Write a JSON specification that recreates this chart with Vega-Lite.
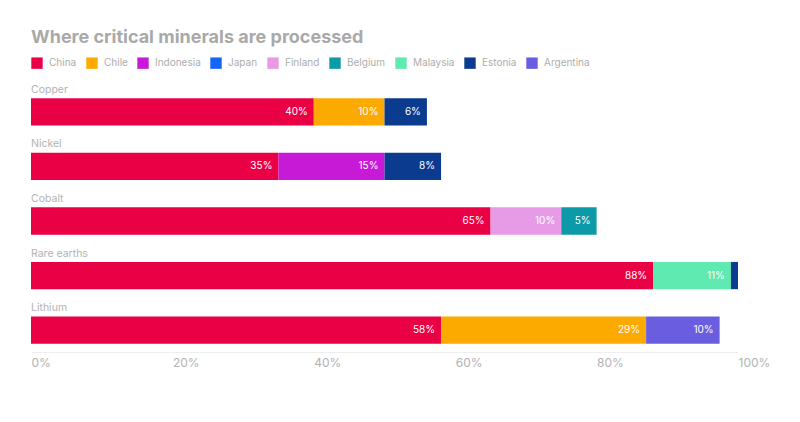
{
  "$schema": "https://vega.github.io/schema/vega-lite/v6.json",
  "autosize": {"type": "none"},
  "padding": {"left": 31, "top": 90, "right": 62, "bottom": 70},
  "width": 707,
  "height": 262,
  "background": "white",
  "title": {
    "text": "Where critical minerals are processed",
    "anchor": "start",
    "frame": "group",
    "font": "Inter",
    "fontSize": 18,
    "fontWeight": "bold",
    "color": "#a9a9a9",
    "offset": 10
  },
  "config": {
    "view": {"stroke": null},
    "font": "Inter"
  },
  "data": {
    "values": [
      {"mineral": "Copper", "country": "China", "value": 0.40},
      {"mineral": "Copper", "country": "Chile", "value": 0.10},
      {"mineral": "Copper", "country": "Estonia", "value": 0.06},
      {"mineral": "Nickel", "country": "China", "value": 0.35},
      {"mineral": "Nickel", "country": "Indonesia", "value": 0.15},
      {"mineral": "Nickel", "country": "Estonia", "value": 0.08},
      {"mineral": "Cobalt", "country": "China", "value": 0.65},
      {"mineral": "Cobalt", "country": "Finland", "value": 0.10},
      {"mineral": "Cobalt", "country": "Belgium", "value": 0.05},
      {"mineral": "Rare earths", "country": "China", "value": 0.88},
      {"mineral": "Rare earths", "country": "Malaysia", "value": 0.11},
      {"mineral": "Rare earths", "country": "Estonia", "value": 0.01},
      {"mineral": "Lithium", "country": "China", "value": 0.58},
      {"mineral": "Lithium", "country": "Chile", "value": 0.29},
      {"mineral": "Lithium", "country": "Argentina", "value": 0.104}
    ]
  },
  "transform": [
    {"window": [{"op": "row_number", "as": "idx"}]},
    {"stack": "value", "groupby": ["mineral"], "sort": [{"field": "idx", "order": "ascending"}], "as": ["x0", "x1"]}
  ],
  "encoding": {
    "y": {
      "field": "mineral",
      "type": "nominal",
      "sort": ["Copper", "Nickel", "Cobalt", "Rare earths", "Lithium"],
      "scale": {"paddingInner": 0.5, "paddingOuter": 0.15},
      "axis": null
    }
  },
  "layer": [
    {
      "mark": {"type": "bar"},
      "encoding": {
        "x": {
          "field": "x0",
          "type": "quantitative",
          "scale": {"domain": [0, 1], "nice": false},
          "axis": {
            "values": [0, 0.2, 0.4, 0.6, 0.8, 1],
            "format": ".0%",
            "title": null,
            "grid": false,
            "ticks": false,
            "domain": true,
            "domainColor": "#eeeeee",
            "domainWidth": 1,
            "labelAlign": "left",
            "labelBaseline": "top",
            "labelPadding": 5,
            "labelColor": "#b3b3b3",
            "labelFontSize": 12,
            "labelFont": "Inter",
            "labelFlush": false
          }
        },
        "x2": {"field": "x1"},
        "color": {
          "field": "country",
          "type": "nominal",
          "scale": {
            "domain": ["China", "Chile", "Indonesia", "Japan", "Finland", "Belgium", "Malaysia", "Estonia", "Argentina"],
            "range": ["#ea0044", "#fdaa00", "#c71ad6", "#1565f5", "#e79be6", "#0d9aa8", "#5eeab0", "#0a3b8f", "#6a5ddf"]
          },
          "legend": {
            "orient": "none",
            "legendX": 0,
            "legendY": -33,
            "direction": "horizontal",
            "title": null,
            "symbolType": "square",
            "symbolSize": 130,
            "symbolStrokeWidth": 0,
            "symbolOpacity": 1,
            "labelFontSize": 10,
            "labelColor": "#adadad",
            "labelFont": "Inter",
            "labelOffset": 6,
            "columnPadding": 9
          }
        }
      }
    },
    {
      "transform": [{"filter": "datum.value >= 0.03"}],
      "mark": {"type": "text", "align": "right", "baseline": "middle", "dx": -6, "color": "white", "fontSize": 10, "font": "Inter"},
      "encoding": {
        "x": {"field": "x1", "type": "quantitative"},
        "text": {"field": "value", "type": "quantitative", "format": ".0%"}
      }
    },
    {
      "transform": [{"filter": "datum.country === 'China'"}],
      "mark": {"type": "text", "align": "left", "baseline": "middle", "dy": -22, "color": "#b3b3b3", "fontSize": 10.5, "font": "Inter"},
      "encoding": {
        "x": {"datum": 0, "type": "quantitative"},
        "text": {"field": "mineral"}
      }
    }
  ]
}
